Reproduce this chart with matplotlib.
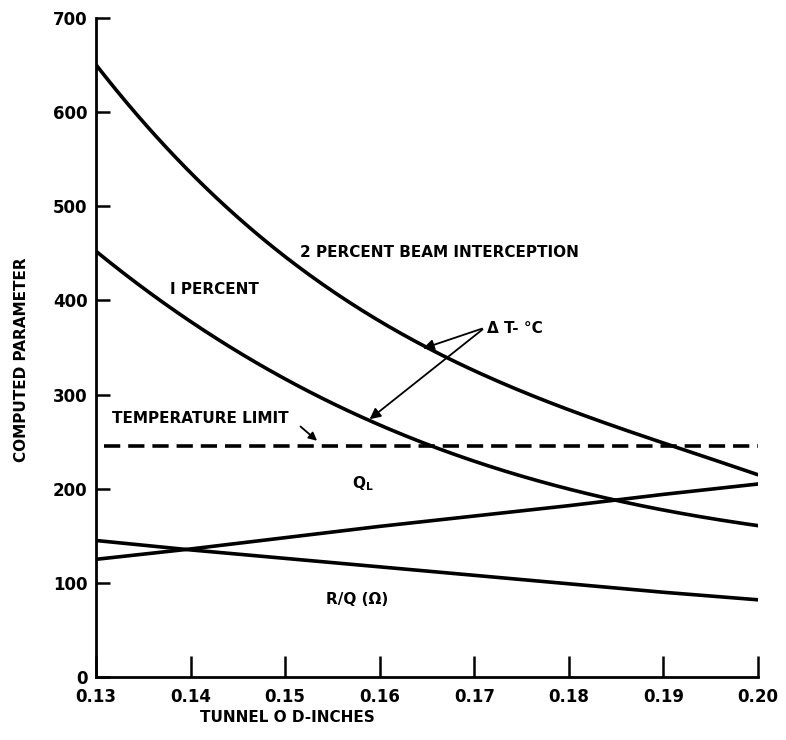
import numpy as np
import matplotlib.pyplot as plt

# tunnel OD (inches)
od = [0.13, 0.14, 0.15, 0.16, 0.17, 0.18, 0.19, 0.20]
dt_2pct = [650, 537, 445, 378, 326, 284, 248, 215]
dt_1pct = [450, 383, 315, 264, 230, 201, 178, 160]
q_l = [125, 136, 148, 160, 171, 182, 194, 205]
r_over_q = [145, 135, 126, 117, 108, 99, 90, 82]
temp_limit = 245

xticks = [0.13, 0.14, 0.15, 0.16, 0.17, 0.18, 0.19, 0.20]
yticks = [0, 100, 200, 300, 400, 500, 600, 700]

fig = plt.figure(figsize=(7.86, 7.4), dpi=100)
ax = fig.add_axes([96 / 786, 63 / 740, 662 / 786, 659 / 740])

lw = 2.6
font = dict(family='DejaVu Sans', weight='bold', size=11)

xs = np.linspace(od[0], od[-1], 200)
for ys in (dt_2pct, dt_1pct):
    # smooth through the read points
    c = np.polyfit(od, ys, 3)
    ax.plot(xs, np.polyval(c, xs), color='black', lw=lw, solid_capstyle='round')
ax.plot(od, q_l, color='black', lw=lw, solid_capstyle='round')
ax.plot(od, r_over_q, color='black', lw=lw, solid_capstyle='round')
ax.plot([0.1308, 0.2], [temp_limit, temp_limit], color='black', lw=lw,
        dashes=(4.5, 2.2))

ax.text(0.1516, 451, '2 PERCENT BEAM INTERCEPTION', va='center', **font)
ax.text(0.1378, 412, 'I PERCENT', va='center', **font)
ax.text(0.1713, 370, '\u0394 T- \u00b0C', va='center', **font)
ax.text(0.1317, 275, 'TEMPERATURE LIMIT', va='center', **font)
ax.text(0.1571, 205, 'Q$_\\mathbf{L}$', va='center', **font)
ax.text(0.1543, 82, 'R/Q (\u03a9)', va='center', **font)

arrow = dict(arrowstyle='-|>', color='black', lw=1.3, mutation_scale=16)
ax.annotate('', xy=(0.1643, 348), xytext=(0.1711, 371), arrowprops=arrow)
ax.annotate('', xy=(0.1587, 272), xytext=(0.1711, 371), arrowprops=arrow)
ax.annotate('', xy=(0.1536, 249), xytext=(0.1514, 268),
            arrowprops=dict(arrowstyle='-|>', color='black', lw=1.3, mutation_scale=12))

ax.set_xlim(0.13, 0.20)
ax.set_ylim(0, 700)
ax.set_xticks(xticks)
ax.set_xticklabels(['%.2f' % t for t in xticks])
ax.set_yticks(yticks)
for s in ('top', 'right'):
    ax.spines[s].set_visible(False)
for s in ('left', 'bottom'):
    ax.spines[s].set_linewidth(2)
ax.tick_params(axis='x', direction='in', length=15, width=1.8, pad=8, labelsize=12)
ax.tick_params(axis='y', direction='in', length=10, width=1.8, pad=6, labelsize=12)
for lab in ax.get_xticklabels() + ax.get_yticklabels():
    lab.set_fontweight('bold')

fig.text(287 / 786, 1 - 718 / 740, 'TUNNEL O D-INCHES', ha='center', va='center', **font)
fig.text(22 / 786, 1 - 360 / 740, 'COMPUTED PARAMETER', ha='center', va='center',
         rotation=90, **font)

fig.savefig('out.png', dpi=100)
